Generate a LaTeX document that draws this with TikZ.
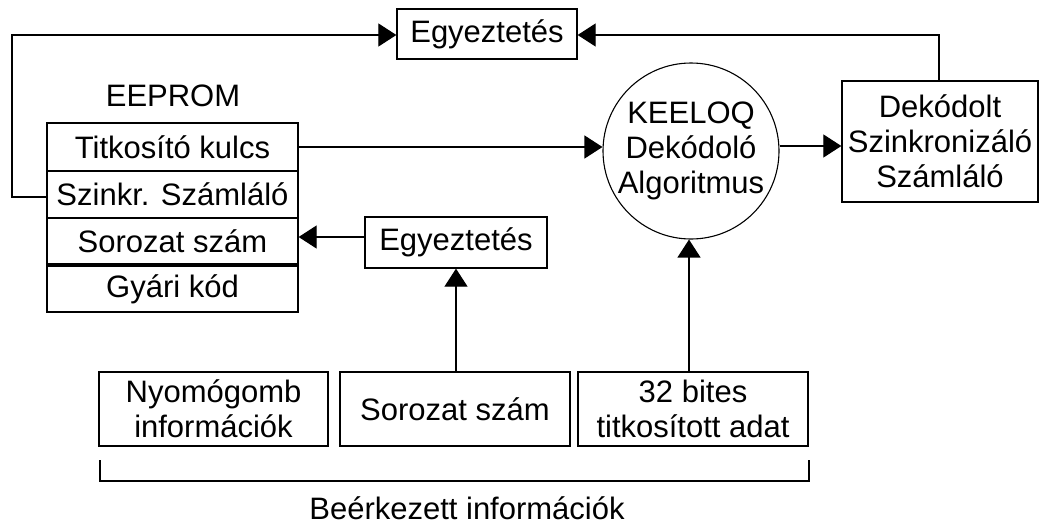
\documentclass[tikz,border=0pt]{standalone}
\usepackage{fontspec}
\setmainfont{Liberation Sans}
\usetikzlibrary{arrows.meta}
\begin{document}
\begin{tikzpicture}[x=1pt,y=-1pt,
  every node/.style={font=\fontsize{31}{35}\selectfont, inner sep=0pt},
  box/.style={draw, line width=1.3pt, align=center},
  conn/.style={line width=1.2pt, -{Triangle[length=18pt,width=23pt]}},
  line/.style={line width=1.2pt}]
\useasboundingbox (0,0) rectangle (1041,528);
\fill[white] (0,0) rectangle (1041,528);
% top matching box
\node[box, minimum width=180pt, minimum height=50pt] (eg1) at (487,34) {Egyeztetés};
% EEPROM
\node (eeprom) at (173,96) {EEPROM};
\node[box, minimum width=251pt, minimum height=48pt] (r1) at (172.5,147) {Titkosító kulcs};
\node[box, minimum width=251pt, minimum height=47pt] (r2) at (172.5,194.5) {Szinkr. Számláló};
\node[box, minimum width=251pt, minimum height=46pt] (r3) at (172.5,241) {Sorozat szám};
\node[box, minimum width=251pt, minimum height=46pt] (r4) at (172.5,289) {Gyári kód};
% circle
\node[draw, circle, line width=1.1pt, minimum size=172pt, align=center] (alg) at (691,151)
  {KEELOQ\\Dekódoló\\Algoritmus};
% decoded counter
\node[box, minimum width=196pt, minimum height=121pt] (dek) at (940,141.5)
  {Dekódolt\\Szinkronizáló\\Számláló};
% lower matching box
\node[box, minimum width=182pt, minimum height=51pt] (eg2) at (456,242.5) {Egyeztetés};
% received boxes
\node[box, minimum width=229pt, minimum height=74pt] (b1) at (213.5,409) {Nyomógomb\\információk};
\node[box, minimum width=230pt, minimum height=74pt] (b2) at (455,409) {Sorozat szám};
\node[box, minimum width=230pt, minimum height=74pt] (b3) at (693,409) {32 bites\\titkosított adat};
\node (recv) at (467,508) {Beérkezett információk};
% helper coordinates
\coordinate (bl) at (100,460);
\coordinate (br) at (809,460);
% connectors
\draw[conn] (r2.west |- 0,197) -- (12,197) -- (12,35) -- (eg1.west |- 0,35);
\draw[conn] (r1.east) -- (alg.west |- r1.east);
\draw[conn] (dek.north -| 939,0) -- (939,35) -- (eg1.east |- 0,35);
\draw[conn] (alg.east |- 0,146) -- (dek.west |- 0,146);
\draw[conn] (eg2.west |- 0,237) -- (r3.east |- 0,237);
\draw[conn] (b2.north -| 456,0) -- (eg2.south -| 456,0);
\draw[conn] (b3.north -| 689,0) -- (alg.south -| 689,0);
\draw[line] (bl) -- (100,481) -- (809,481) -- (br);
\end{tikzpicture}
\end{document}
